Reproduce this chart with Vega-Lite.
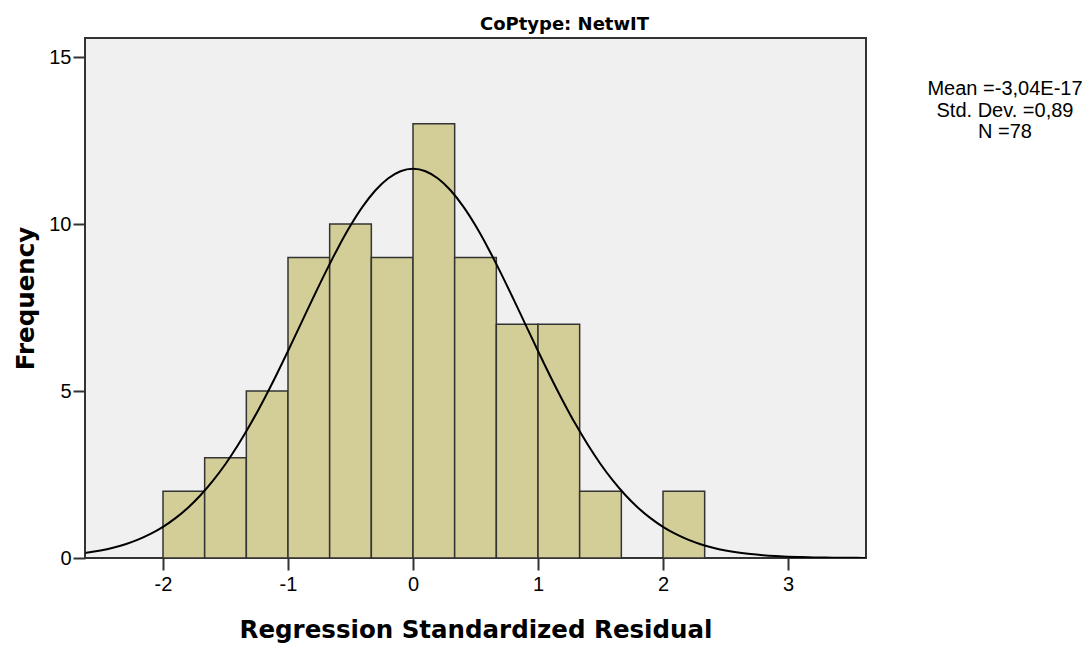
{
  "$schema": "https://vega.github.io/schema/vega-lite/v6.json",
  "autosize": "none",
  "padding": {"left": 85, "top": 38, "right": 224, "bottom": 92},
  "width": 781,
  "height": 520,
  "background": "white",
  "title": {
    "text": "CoPtype: NetwIT",
    "font": "DejaVu Sans",
    "fontSize": 18,
    "fontWeight": "bold",
    "color": "black",
    "anchor": "middle",
    "baseline": "alphabetic",
    "offset": -10,
    "dx": 89
  },
  "config": {
    "view": {"fill": "#F0F0F0", "stroke": "#333333", "strokeWidth": 2},
    "axis": {
      "domain": false,
      "grid": false,
      "tickColor": "#333333",
      "tickWidth": 2,
      "tickSize": 12,
      "labelFont": "Liberation Sans",
      "labelFontSize": 20,
      "labelColor": "black",
      "titleFont": "DejaVu Sans",
      "titleFontSize": 24.5,
      "titleFontWeight": "bold",
      "titleColor": "black"
    }
  },
  "datasets": {
    "bins": [
      {"bin_start": -2.0, "bin_end": -1.6667, "count": 2},
      {"bin_start": -1.6667, "bin_end": -1.3333, "count": 3},
      {"bin_start": -1.3333, "bin_end": -1.0, "count": 5},
      {"bin_start": -1.0, "bin_end": -0.6667, "count": 9},
      {"bin_start": -0.6667, "bin_end": -0.3333, "count": 10},
      {"bin_start": -0.3333, "bin_end": 0.0, "count": 9},
      {"bin_start": 0.0, "bin_end": 0.3333, "count": 13},
      {"bin_start": 0.3333, "bin_end": 0.6667, "count": 9},
      {"bin_start": 0.6667, "bin_end": 1.0, "count": 7},
      {"bin_start": 1.0, "bin_end": 1.3333, "count": 7},
      {"bin_start": 1.3333, "bin_end": 1.6667, "count": 2},
      {"bin_start": 2.0, "bin_end": 2.3333, "count": 2}
    ],
    "curve": [
      {"x": -2.62, "y": 0.153}, {"x": -2.6, "y": 0.163}, {"x": -2.5, "y": 0.225},
      {"x": -2.4, "y": 0.307}, {"x": -2.3, "y": 0.413}, {"x": -2.2, "y": 0.549},
      {"x": -2.1, "y": 0.720}, {"x": -2.0, "y": 0.933}, {"x": -1.9, "y": 1.194},
      {"x": -1.8, "y": 1.507}, {"x": -1.7, "y": 1.880}, {"x": -1.6, "y": 2.316},
      {"x": -1.5, "y": 2.816}, {"x": -1.4, "y": 3.382}, {"x": -1.3, "y": 4.010},
      {"x": -1.2, "y": 4.696}, {"x": -1.1, "y": 5.429}, {"x": -1.0, "y": 6.199},
      {"x": -0.9, "y": 6.989}, {"x": -0.8, "y": 7.781}, {"x": -0.7, "y": 8.553},
      {"x": -0.6, "y": 9.285}, {"x": -0.5, "y": 9.953}, {"x": -0.4, "y": 10.534},
      {"x": -0.3, "y": 11.010}, {"x": -0.2, "y": 11.363}, {"x": -0.1, "y": 11.581},
      {"x": 0.0, "y": 11.654},
      {"x": 0.1, "y": 11.581}, {"x": 0.2, "y": 11.363}, {"x": 0.3, "y": 11.010},
      {"x": 0.4, "y": 10.534}, {"x": 0.5, "y": 9.953}, {"x": 0.6, "y": 9.285},
      {"x": 0.7, "y": 8.553}, {"x": 0.8, "y": 7.781}, {"x": 0.9, "y": 6.989},
      {"x": 1.0, "y": 6.199}, {"x": 1.1, "y": 5.429}, {"x": 1.2, "y": 4.696},
      {"x": 1.3, "y": 4.010}, {"x": 1.4, "y": 3.382}, {"x": 1.5, "y": 2.816},
      {"x": 1.6, "y": 2.316}, {"x": 1.7, "y": 1.880}, {"x": 1.8, "y": 1.507},
      {"x": 1.9, "y": 1.194}, {"x": 2.0, "y": 0.933}, {"x": 2.1, "y": 0.720},
      {"x": 2.2, "y": 0.549}, {"x": 2.3, "y": 0.413}, {"x": 2.4, "y": 0.307},
      {"x": 2.5, "y": 0.225}, {"x": 2.6, "y": 0.163}, {"x": 2.7, "y": 0.117},
      {"x": 2.8, "y": 0.0826}, {"x": 2.9, "y": 0.0577}, {"x": 3.0, "y": 0.0397},
      {"x": 3.1, "y": 0.0270}, {"x": 3.2, "y": 0.0182}, {"x": 3.3, "y": 0.0121},
      {"x": 3.4, "y": 0.0079}, {"x": 3.5, "y": 0.0051}, {"x": 3.6, "y": 0.0033},
      {"x": 3.62, "y": 0.0030}
    ],
    "stats": [
      {"label": "Mean =-3,04E-17", "x": 4.736, "y": 13.86},
      {"label": "Std. Dev. =0,89", "x": 4.736, "y": 13.20},
      {"label": "N =78", "x": 4.736, "y": 12.57}
    ]
  },
  "layer": [
    {
      "data": {"name": "bins"},
      "mark": {"type": "rect", "fill": "#D3CE97", "stroke": "#333333", "strokeWidth": 1.5},
      "encoding": {
        "x": {
          "field": "bin_start",
          "type": "quantitative",
          "scale": {"domain": [-2.624, 3.624], "nice": false, "zero": false},
          "axis": {"values": [-2, -1, 0, 1, 2, 3], "labelExpr": "'' + datum.value", "title": "Regression Standardized Residual", "titlePadding": 24, "labelPadding": 4}
        },
        "x2": {"field": "bin_end"},
        "y": {
          "field": "count",
          "type": "quantitative",
          "scale": {"domain": [0, 15.57], "nice": false},
          "axis": {"values": [0, 5, 10, 15], "labelExpr": "'' + datum.value", "title": "Frequency", "titlePadding": 10, "labelPadding": 2}
        },
        "y2": {"datum": 0}
      }
    },
    {
      "data": {"name": "curve"},
      "mark": {"type": "line", "color": "black", "strokeWidth": 2, "clip": true, "interpolate": "monotone"},
      "encoding": {
        "x": {"field": "x", "type": "quantitative"},
        "y": {"field": "y", "type": "quantitative"}
      }
    },
    {
      "data": {"name": "stats"},
      "mark": {"type": "text", "font": "Liberation Sans", "fontSize": 20, "color": "black", "align": "center", "baseline": "alphabetic"},
      "encoding": {
        "x": {"field": "x", "type": "quantitative"},
        "y": {"field": "y", "type": "quantitative"},
        "text": {"field": "label"}
      }
    }
  ]
}
